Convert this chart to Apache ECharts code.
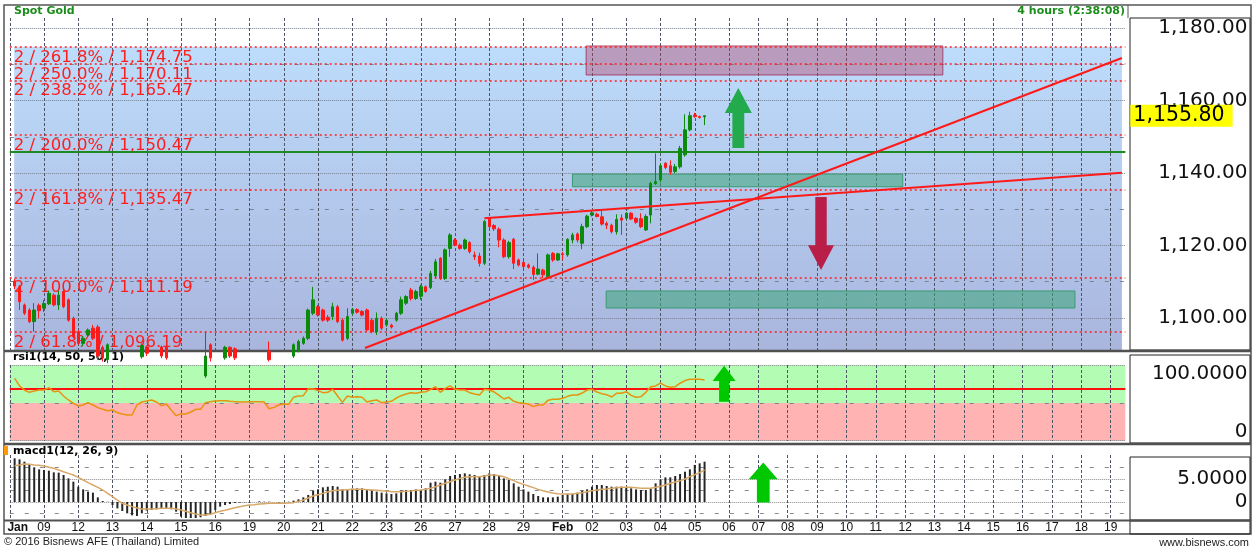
<!DOCTYPE html>
<html>
<head>
<meta charset="utf-8">
<script src="https://cdn.jsdelivr.net/npm/echarts@6/dist/echarts.min.js"></script>
<style>
  html, body { margin: 0; padding: 0; background: #fff; }
  #chart { width: 1254px; height: 546px; }
</style>
</head>
<body>
<div id="chart"></div>
<script>
// one slot per 4h bar; a day label sits on the first bar of its day
const dayLabels = ['Jan', '09', '12', '13', '14', '15', '16', '19', '20', '21', '22', '23', '26', '27', '28', '29',
  'Feb', '02', '03', '04', '05', '06', '07', '08', '09', '10', '11', '12', '13', '14', '15', '16', '17', '18', '19'];
const dayStart = [0, 7, 14, 21, 28, 35, 42, 49, 56, 63, 70, 77, 84, 91, 98, 105,
  113, 119, 126, 133, 140, 147, 153, 159, 165, 171, 177, 183, 189, 195, 201, 207, 213, 219, 225];
const barCount = 229;

// candles from bar 1: [open, close, low, high]
const ohlc = [
  [1110.2, 1108.8, 1108.0, 1110.8], [1108.6, 1104.5, 1102.2, 1109.1], [1103.6, 1101.3, 1100.8, 1104.0],
  [1102.2, 1099.0, 1098.6, 1102.7], [1099.0, 1102.2, 1096.2, 1104.1], [1103.5, 1102.0, 1099.9, 1104.0],
  [1102.7, 1104.0, 1101.7, 1105.0], [1103.9, 1106.8, 1103.6, 1107.5], [1106.3, 1103.6, 1103.2, 1106.8],
  [1103.6, 1106.3, 1102.2, 1107.5], [1107.3, 1103.1, 1102.7, 1107.7], [1105.0, 1099.4, 1099.0, 1105.4],
  [1099.9, 1094.8, 1094.4, 1100.4], [1096.2, 1093.0, 1092.6, 1096.7], [1093.0, 1094.4, 1092.2, 1095.0],
  [1095.3, 1096.7, 1094.9, 1097.1], [1097.2, 1094.4, 1093.9, 1098.1], [1097.5, 1089.5, 1088.5, 1098.1],
  [1091.9, 1089.0, 1088.0, 1092.4], [1088.5, 1092.6, 1087.5, 1093.0], [1090.5, 1088.0, 1087.0, 1090.8],
  [1088.0, 1086.5, 1085.5, 1089.0], [1086.5, 1084.0, 1083.0, 1087.0], [1084.0, 1085.5, 1083.0, 1086.5],
  [1085.5, 1087.2, 1085.0, 1088.0], [1087.2, 1089.3, 1086.5, 1090.0], [1089.3, 1092.4, 1088.8, 1093.0],
  [1092.0, 1090.3, 1089.5, 1092.4], [1090.3, 1089.0, 1088.0, 1090.8], [1089.0, 1090.5, 1088.0, 1091.0],
  [1092.0, 1089.5, 1088.9, 1092.4], [1091.9, 1089.0, 1088.5, 1092.2], [1089.0, 1087.5, 1086.8, 1089.6],
  [1087.5, 1085.0, 1084.2, 1088.0], [1085.0, 1082.5, 1081.8, 1085.6], [1082.5, 1080.0, 1079.0, 1083.0],
  [1080.0, 1078.5, 1077.5, 1080.8], [1078.5, 1081.0, 1077.8, 1081.6], [1081.0, 1084.0, 1080.5, 1084.6],
  [1084.0, 1089.5, 1083.5, 1096.2], [1092.6, 1089.0, 1088.0, 1093.0], [1089.0, 1087.5, 1086.8, 1089.8],
  [1087.5, 1089.0, 1087.0, 1089.8], [1089.0, 1091.9, 1088.5, 1092.3], [1091.9, 1089.5, 1089.0, 1092.2],
  [1091.5, 1089.0, 1088.4, 1091.9], [1089.0, 1087.8, 1087.0, 1089.5], [1087.8, 1088.6, 1087.2, 1089.2],
  [1088.6, 1087.5, 1086.8, 1089.0], [1087.5, 1088.8, 1087.0, 1089.4], [1088.8, 1089.5, 1088.2, 1090.0],
  [1089.5, 1088.7, 1088.0, 1090.2], [1090.8, 1088.5, 1088.0, 1093.5], [1088.5, 1087.6, 1087.0, 1089.0],
  [1087.6, 1088.4, 1087.0, 1089.0], [1088.4, 1088.9, 1088.0, 1089.5], [1088.9, 1089.5, 1088.4, 1090.2],
  [1089.5, 1092.6, 1089.0, 1093.0], [1091.2, 1093.5, 1090.5, 1094.0], [1093.0, 1094.4, 1092.6, 1094.9],
  [1094.4, 1102.2, 1093.9, 1102.6], [1101.3, 1105.0, 1100.8, 1108.6], [1103.1, 1100.8, 1100.4, 1103.6],
  [1102.2, 1099.4, 1099.0, 1102.6], [1100.2, 1099.4, 1098.9, 1100.8], [1100.4, 1103.1, 1099.4, 1104.2],
  [1103.1, 1099.0, 1098.6, 1103.6], [1099.4, 1093.9, 1093.5, 1099.9], [1094.4, 1100.4, 1093.9, 1102.7],
  [1101.3, 1102.4, 1100.8, 1102.8], [1102.3, 1101.6, 1101.2, 1102.7], [1101.8, 1100.8, 1100.4, 1102.2],
  [1102.2, 1096.7, 1096.2, 1102.6], [1099.4, 1096.2, 1095.8, 1099.9], [1096.2, 1099.9, 1095.3, 1101.5],
  [1099.9, 1097.2, 1096.7, 1100.4], [1098.1, 1099.4, 1097.6, 1099.9], [1098.0, 1097.5, 1097.1, 1098.4],
  [1099.4, 1101.3, 1099.0, 1101.7], [1101.3, 1105.0, 1100.8, 1105.9], [1104.1, 1105.9, 1103.6, 1106.3],
  [1107.7, 1105.4, 1104.8, 1108.3], [1105.4, 1107.3, 1105.0, 1107.8], [1106.0, 1108.6, 1105.0, 1109.2],
  [1108.6, 1107.3, 1107.0, 1109.0], [1108.4, 1112.3, 1108.0, 1113.0], [1111.6, 1115.5, 1111.0, 1116.3],
  [1116.5, 1110.9, 1110.5, 1116.8], [1110.9, 1118.8, 1110.5, 1119.2], [1119.2, 1122.9, 1116.9, 1123.4],
  [1121.5, 1120.1, 1119.8, 1122.0], [1120.1, 1119.2, 1118.8, 1120.5], [1119.2, 1121.5, 1118.8, 1121.9],
  [1120.8, 1118.3, 1117.8, 1121.2], [1117.4, 1116.9, 1116.0, 1118.3], [1117.1, 1115.1, 1114.2, 1118.0],
  [1115.1, 1126.6, 1114.6, 1127.0], [1127.5, 1125.2, 1124.5, 1127.7], [1125.5, 1124.6, 1124.0, 1125.9],
  [1124.5, 1121.5, 1119.5, 1125.0], [1121.5, 1116.9, 1116.5, 1122.0], [1116.9, 1120.8, 1116.4, 1121.3],
  [1121.7, 1115.1, 1113.5, 1122.1], [1116.0, 1114.6, 1114.2, 1116.4], [1115.3, 1114.2, 1113.8, 1115.8],
  [1114.6, 1114.0, 1113.6, 1115.0], [1114.0, 1112.0, 1110.5, 1114.5], [1112.1, 1113.5, 1111.8, 1117.8],
  [1113.2, 1111.9, 1111.0, 1113.6], [1111.4, 1117.4, 1110.9, 1117.8], [1117.8, 1116.0, 1115.5, 1118.2],
  [1116.0, 1117.7, 1115.7, 1118.0], [1117.7, 1117.5, 1116.0, 1118.2], [1117.4, 1121.7, 1116.9, 1122.0],
  [1121.5, 1122.9, 1120.6, 1123.5], [1123.2, 1121.5, 1120.8, 1123.6], [1120.6, 1125.2, 1119.0, 1126.0],
  [1125.2, 1128.1, 1124.8, 1128.5], [1128.4, 1129.0, 1128.0, 1129.6], [1128.6, 1128.0, 1127.8, 1129.0],
  [1127.9, 1125.9, 1125.5, 1129.6], [1126.1, 1125.6, 1124.5, 1126.6], [1125.6, 1123.8, 1123.3, 1126.0],
  [1123.8, 1127.2, 1123.0, 1128.6], [1127.6, 1127.0, 1122.9, 1128.6], [1127.5, 1128.9, 1127.2, 1129.2],
  [1128.9, 1127.3, 1127.0, 1129.2], [1127.5, 1126.4, 1126.0, 1127.8], [1127.4, 1125.2, 1124.8, 1128.9],
  [1124.3, 1128.0, 1124.0, 1128.6], [1128.4, 1137.1, 1126.1, 1137.6], [1137.1, 1137.6, 1136.7, 1145.4],
  [1138.1, 1142.0, 1137.5, 1142.6], [1142.7, 1141.5, 1141.0, 1143.0], [1142.0, 1140.2, 1139.5, 1143.5],
  [1140.4, 1141.7, 1140.0, 1142.5], [1141.7, 1146.8, 1141.2, 1147.5], [1145.0, 1151.9, 1144.5, 1156.2],
  [1151.9, 1155.8, 1151.5, 1156.9], [1156.0, 1155.6, 1155.2, 1156.6], [1155.6, 1155.3, 1155.0, 1155.8],
  [1155.5, 1155.8, 1153.2, 1155.9]
];

// rsi1(14, 50, 50, 1), from bar 1
const rsi = [
  92.5, 79.4, 72.4, 68.4, 70.7, 72.4, 72.4, 76.4, 69.5, 70.7, 62.1, 55.2, 49.4, 44.8, 46.6, 50.6, 46.6, 42.0, 39.1, 36.8,
  37.9, 33.3, 31.0, 29.3, 29.3, 46.6, 51.7, 53.4, 55.2, 51.7, 45.4, 48.3, 37.9, 28.2, 31.0, 31.0, 34.5, 39.1, 39.1, 50.6,
  52.3, 53.4, 54.0, 54.0, 52.9, 52.3, 51.7, 51.7, 52.3, 52.3, 52.3, 51.7, 40.2, 42.5, 46.6, 48.3, 47.7, 59.8, 62.1, 62.6,
  74.7, 74.1, 71.3, 67.8, 68.4, 73.6, 62.1, 51.1, 62.1, 59.8, 60.9, 59.8, 51.7, 54.0, 55.2, 50.6, 51.7, 52.9, 58.6, 62.6,
  65.5, 67.8, 66.7, 68.4, 69.5, 73.0, 78.2, 68.4, 75.3, 79.4, 73.6, 72.4, 72.4, 67.8, 65.5, 63.8, 73.6, 72.4, 69.0, 63.2,
  56.9, 59.8, 52.9, 50.6, 49.4, 48.3, 43.7, 46.6, 46.6, 54.6, 56.3, 56.3, 58.0, 61.5, 63.8, 63.8, 67.2, 72.4, 73.6, 69.0,
  66.1, 64.4, 60.3, 66.7, 66.7, 69.5, 63.2, 59.8, 60.9, 68.4, 78.2, 79.4, 84.1, 79.4, 77.0, 78.2, 84.1, 88.7, 90.8, 90.8,
  90.8, 89.7
];

// macd1(12, 26, 9), from bar 1
const macdHist = [
  9.49, 9.28, 8.77, 8.04, 7.54, 7.10, 6.96, 6.81, 6.45, 6.38, 5.87, 5.14, 4.42, 3.33, 2.75, 2.25, 2.03, 1.01, 0.22, 0.05,
  -0.65, -1.38, -1.96, -2.46, -2.90, -3.04, -2.46, -1.88, -1.74, -1.59, -1.52, -1.45, -1.59, -2.10, -3.19, -3.77, -3.91, -3.55, -3.33, -3.04,
  -2.61, -1.74, -1.01, -0.65, -0.43, -0.22, -0.14, -0.07, -0.07, 0.0, 0.14, 0.07, 0.07, 0.0, -0.14, 0.0, 0.07, 0.29, 0.58, 1.01,
  1.52, 2.46, 2.75, 3.19, 3.33, 3.48, 3.33, 2.75, 2.75, 2.90, 2.97, 2.97, 2.75, 2.46, 2.25, 2.03, 1.88, 1.74, 1.88, 2.46,
  2.61, 2.61, 2.75, 2.61, 2.97, 4.20, 4.42, 4.20, 4.93, 5.65, 5.87, 6.09, 6.23, 6.01, 5.87, 5.65, 5.87, 6.23, 6.09, 5.87,
  5.14, 4.78, 4.06, 3.33, 2.75, 2.25, 1.74, 1.30, 1.01, 1.01, 1.01, 1.16, 1.52, 1.74, 1.74, 2.03, 2.46, 2.75, 3.33, 3.70,
  3.70, 3.48, 3.33, 3.33, 3.33, 3.19, 2.97, 2.75, 2.61, 2.61, 2.97, 4.06, 4.93, 5.36, 5.36, 5.65, 6.09, 6.59, 7.10, 8.04,
  8.41, 8.77
];
const macdSignal = [
  7.90, 8.04, 8.26, 8.19, 8.04, 7.97, 7.83, 7.54, 7.32, 6.96, 6.59, 6.23, 5.87, 5.36, 4.78, 4.20, 3.70, 3.19, 2.61, 1.88,
  1.16, 0.43, -0.29, -0.65, -1.01, -1.30, -1.52, -1.52, -1.52, -1.45, -1.38, -1.38, -1.38, -1.52, -1.74, -2.03, -2.32, -2.61, -2.83, -2.83,
  -2.68, -2.32, -2.03, -1.81, -1.52, -1.23, -1.01, -0.80, -0.65, -0.58, -0.43, -0.36, -0.29, -0.29, -0.29, -0.29, -0.22, -0.14, 0.14, 0.43,
  0.87, 1.30, 1.59, 1.88, 2.17, 2.46, 2.54, 2.61, 2.68, 2.75, 2.75, 2.75, 2.68, 2.61, 2.54, 2.46, 2.39, 2.25, 2.25, 2.25,
  2.32, 2.39, 2.54, 2.61, 2.75, 2.97, 3.33, 3.70, 4.06, 4.42, 4.78, 5.14, 5.36, 5.51, 5.51, 5.51, 5.65, 5.87, 5.87, 5.72,
  5.51, 5.07, 4.64, 4.20, 3.84, 3.48, 3.12, 2.75, 2.46, 2.17, 1.96, 1.81, 1.74, 1.74, 1.74, 1.88, 2.03, 2.25, 2.46, 2.61,
  2.75, 2.83, 2.97, 3.12, 3.19, 3.19, 3.19, 3.12, 2.97, 2.97, 2.97, 3.19, 3.41, 3.70, 4.06, 4.35, 4.64, 5.00, 5.51, 5.94,
  6.38, 6.96
];

// fibonacci levels drawn on the price panel
const fibLevels = [1174.75, 1170.11, 1165.47, 1150.47, 1135.47, 1111.19, 1096.19];
const fibPct = ['261.8%', '250.0%', '238.2%', '200.0%', '161.8%', '100.0%', '61.8%'];
const supportLevel = 1145.8;
const lastPrice = 1155.80;

// axis ranges and ticks
const priceMin = 1091.17, priceMax = 1182.76;
const priceMajor = [1100, 1120, 1140, 1160, 1180];
const priceMinor = [1110, 1130, 1150, 1170];
const rsiMin = -15.5, rsiMax = 115.5, rsiMid = 50, rsiSignal = 75;
const rsiTicks = [0, 100];
const macdMin = -3.48, macdMax = 10.22;
const macdMajor = [0, 5];
const macdMinor = [-2.5, 2.5, 7.5];

// hand-drawn annotations, in [bar, value]
const trendLines = [
  [[72.6, 1091.72], [227.3, 1171.73]],
  [[97.0, 1127.5], [227.3, 1140.1]]
];
const targetBox = [[117.8, 1175.04], [190.7, 1167.04]];
const tealBoxes = [
  [[115.0, 1139.7], [182.5, 1136.2]],
  [[121.9, 1107.45], [217.7, 1102.76]]
];

const upArrow = 'path://M50,0 L100,42 L72,42 L72,100 L28,100 L28,42 L0,42 Z';
const downArrow = 'path://M28,0 L72,0 L72,66 L100,66 L50,100 L0,66 L28,66 Z';

const cats = Array.from({ length: barCount }, (_, i) => String(i));
const labelAt = {};
dayStart.forEach((s, i) => { labelAt[s] = dayLabels[i]; });
const isDay = (i) => labelAt[i] !== undefined;

const fmt = (v) => v.toLocaleString('en-US', { minimumFractionDigits: 2, maximumFractionDigits: 2 });
const sansWide = '"DejaVu Sans"';
const sans = '"Liberation Sans", Arial';

const gridLeft = 9.75, gridWidth = 1115.6;
const vLine = { show: true, interval: isDay, lineStyle: { color: '#4c5466', type: [3, 2], width: 1 } };

function catAxis(gridIndex, showLabel) {
  return {
    type: 'category', gridIndex, data: cats, boundaryGap: false,
    axisLine: { show: false }, axisTick: { show: false },
    splitLine: vLine,
    axisLabel: showLabel ? {
      interval: isDay, margin: 4, fontSize: 12, fontFamily: sans, color: '#111', hideOverlap: false,
      formatter: (v) => {
        const t = labelAt[+v] || '';
        if (t === 'Jan') return '{j|Jan}';
        if (t === 'Feb') return '{b|Feb}';
        return t;
      },
      rich: {
        j: { fontWeight: 'bold', fontSize: 12, fontFamily: sans, color: '#111', padding: [0, 0, 0, 16] },
        b: { fontWeight: 'bold', fontSize: 12, fontFamily: sans, color: '#111' }
      }
    } : { show: false }
  };
}

function valLabel(values, formatter) {
  return {
    customValues: values, formatter, align: 'right', margin: 122,
    fontSize: 20, fontFamily: sansWide, color: '#111'
  };
}

const hLines = (vals, type, color) => vals.map((v) => ({ yAxis: v, lineStyle: { type, color, width: 1 } }));

const option = {
  animation: false,
  backgroundColor: '#fff',
  grid: [
    { left: gridLeft, top: 18, width: gridWidth, height: 332, outerBoundsMode: 'none' },
    { left: gridLeft, top: 365, width: gridWidth, height: 76, outerBoundsMode: 'none' },
    { left: gridLeft, top: 455, width: gridWidth, height: 63, outerBoundsMode: 'none' }
  ],
  xAxis: [
    catAxis(0, false),
    catAxis(1, false),
    catAxis(2, true),
    { type: 'value', gridIndex: 0, min: 0, max: barCount - 1, show: false }
  ],
  yAxis: [
    {
      type: 'value', gridIndex: 0, position: 'right', min: priceMin, max: priceMax,
      axisLine: { show: false }, axisTick: { show: false }, splitLine: { show: false },
      axisLabel: valLabel(priceMajor, (v) => fmt(v))
    },
    {
      type: 'value', gridIndex: 1, position: 'right', min: rsiMin, max: rsiMax,
      axisLine: { show: false }, axisTick: { show: false }, splitLine: { show: false },
      axisLabel: valLabel(rsiTicks, (v) => (v === 0 ? '0' : v.toFixed(4)))
    },
    {
      type: 'value', gridIndex: 2, position: 'right', min: macdMin, max: macdMax,
      axisLine: { show: false }, axisTick: { show: false }, splitLine: { show: false },
      axisLabel: valLabel(macdMajor, (v) => (v === 0 ? '0' : v.toFixed(4)))
    }
  ],
  series: [
    // price panel backdrop
    {
      type: 'line', xAxisIndex: 3, yAxisIndex: 0, data: [], silent: true,
      markArea: {
        silent: true, z: -5,
        itemStyle: {
          color: new echarts.graphic.LinearGradient(0, 0, 0, 1, [
            { offset: 0, color: '#bddcfb' }, { offset: 1, color: '#a9b5dd' }
          ])
        },
        data: [[{ coord: [0.9, fibLevels[0]] }, { coord: [227.3, priceMin] }]]
      },
      markLine: {
        silent: true, z: -4, symbol: ['none', 'none'], label: { show: false },
        data: hLines(priceMajor, [1, 1], '#7a8290').concat(hLines(priceMinor, [4, 11], '#7a8290'))
      }
    },
    // fib levels and support line
    {
      type: 'line', xAxisIndex: 0, yAxisIndex: 0, data: [], silent: true,
      markLine: {
        silent: true, z: 1, symbol: ['none', 'none'],
        data: fibLevels.map((v, i) => ({
          yAxis: v,
          lineStyle: { color: '#ff2020', type: [2, 3], width: 1.5 },
          label: {
            show: true, position: 'insideStartBottom', distance: [4, 2],
            formatter: '2 / ' + fibPct[i] + ' / ' + fmt(v),
            color: '#ff1e1e', fontSize: 16.5, fontFamily: sansWide
          }
        })).concat([{
          yAxis: supportLevel, label: { show: false },
          lineStyle: { color: '#1f8a1f', type: 'solid', width: 2 }
        }])
      }
    },
    // boxes
    {
      type: 'line', xAxisIndex: 3, yAxisIndex: 0, data: [], silent: true,
      markArea: {
        silent: true, z: 1,
        data: [
          [{ coord: targetBox[0], itemStyle: { color: 'rgba(180,60,100,0.4)', borderColor: 'rgba(160,50,90,0.85)', borderWidth: 1 } },
           { coord: targetBox[1] }]
        ].concat(tealBoxes.map((b) => [
          { coord: b[0], itemStyle: { color: 'rgba(60,165,120,0.55)', borderColor: '#3a9a70', borderWidth: 1 } },
          { coord: b[1] }
        ]))
      }
    },
    // candles
    {
      type: 'candlestick', xAxisIndex: 0, yAxisIndex: 0, z: 2, barWidth: 3,
      data: ohlc.map((d, i) => [i + 1].concat(d)),
      encode: { x: 0, y: [1, 2, 3, 4] },
      itemStyle: { color: '#0b8a0b', color0: '#ff1a1a', borderColor: '#0b8a0b', borderColor0: '#ff1a1a', borderWidth: 1 },
      markLine: {
        silent: true, z: 6, symbol: ['none', 'none'],
        lineStyle: { color: 'rgba(0,0,0,0)' },
        data: [{
          yAxis: lastPrice,
          label: {
            show: true, position: 'end', distance: 5, formatter: fmt(lastPrice),
            color: '#000', backgroundColor: '#ffff00', fontSize: 20.5, fontFamily: sansWide, padding: [1, 8, 0, 3]
          }
        }]
      }
    },
    // trend lines and arrows
    {
      type: 'line', xAxisIndex: 3, yAxisIndex: 0, data: [], silent: true,
      markLine: {
        silent: true, z: 3, symbol: ['none', 'none'], label: { show: false },
        lineStyle: { color: '#ff1a1a', width: 2, type: 'solid' },
        data: trendLines.map((l) => [{ coord: l[0] }, { coord: l[1] }])
      },
      markPoint: {
        silent: true, z: 6, label: { show: false },
        data: [
          { coord: [148.9, 1155.2], symbol: upArrow, symbolSize: [27, 60], itemStyle: { color: '#22aa4c' } },
          { coord: [165.8, 1123.3], symbol: downArrow, symbolSize: [26, 73], itemStyle: { color: '#b81e48' } }
        ]
      }
    },
    // RSI panel
    {
      type: 'line', xAxisIndex: 1, yAxisIndex: 1, data: [], silent: true,
      markArea: {
        silent: true, z: -5,
        data: [
          [{ yAxis: rsiMid, itemStyle: { color: '#b3fcb3' } }, { yAxis: rsiMax }],
          [{ yAxis: rsiMin, itemStyle: { color: '#ffb3b3' } }, { yAxis: rsiMid }]
        ]
      },
      markLine: {
        silent: true, z: -4, symbol: ['none', 'none'], label: { show: false },
        data: hLines([rsiMid], [4, 11], '#7a8290').concat(hLines([rsiMax - 0.6, rsiMin + 0.6], [1, 1], '#8a8a8a'))
      }
    },
    {
      type: 'line', xAxisIndex: 1, yAxisIndex: 1, z: 3, symbol: 'none',
      data: rsi.map((v, i) => [i + 1, v]),
      lineStyle: { color: '#e8920f', width: 1.5 },
      markLine: {
        silent: true, z: 2, symbol: ['none', 'none'], label: { show: false },
        data: [{ yAxis: rsiSignal, lineStyle: { color: '#ff1010', width: 2, type: 'solid' } }]
      },
      markPoint: {
        silent: true, z: 6, label: { show: false },
        data: [{ coord: ['146', 83.1], symbol: upArrow, symbolSize: [23, 36], itemStyle: { color: '#00c800' } }]
      }
    },
    // MACD panel
    {
      type: 'line', xAxisIndex: 2, yAxisIndex: 2, data: [], silent: true,
      markLine: {
        silent: true, z: -4, symbol: ['none', 'none'], label: { show: false },
        data: hLines(macdMajor, [1, 1], '#8a8a8a').concat(hLines(macdMinor, [4, 11], '#8a8a8a'))
      }
    },
    {
      type: 'bar', xAxisIndex: 2, yAxisIndex: 2, barWidth: 2, z: 2,
      data: macdHist.map((v, i) => [i + 1, v]),
      itemStyle: { color: '#262626' }
    },
    {
      type: 'line', xAxisIndex: 2, yAxisIndex: 2, z: 3, symbol: 'none',
      data: macdSignal.map((v, i) => [i + 1, v]),
      lineStyle: { color: '#d8a868', width: 1.5 },
      markPoint: {
        silent: true, z: 6, label: { show: false },
        data: [{ coord: ['154', 4.24], symbol: upArrow, symbolSize: [29, 40], itemStyle: { color: '#00c800' } }]
      }
    }
  ],
  graphic: [
    { type: 'rect', shape: { x: 4, y: 5, width: 1247, height: 529 }, style: { fill: 'none', stroke: '#555', lineWidth: 1.5 } },
    { type: 'line', shape: { x1: 1128, y1: 5, x2: 1128, y2: 18 }, style: { stroke: '#555', lineWidth: 1 } },
    { type: 'rect', shape: { x: 1130, y: 18, width: 120, height: 332 }, style: { fill: 'none', stroke: '#222', lineWidth: 1 } },
    { type: 'rect', shape: { x: 1130, y: 355, width: 120, height: 88 }, style: { fill: 'none', stroke: '#222', lineWidth: 1 } },
    { type: 'rect', shape: { x: 1130, y: 457, width: 120, height: 63 }, style: { fill: 'none', stroke: '#222', lineWidth: 1 } },
    { type: 'rect', shape: { x: 1130, y: 521, width: 120, height: 13 }, style: { fill: 'none', stroke: '#222', lineWidth: 1 } },
    { type: 'line', shape: { x1: 4, y1: 351, x2: 1251, y2: 351 }, style: { stroke: '#505050', lineWidth: 2.5 } },
    { type: 'line', shape: { x1: 4, y1: 444, x2: 1251, y2: 444 }, style: { stroke: '#505050', lineWidth: 2.5 } },
    { type: 'line', shape: { x1: 4, y1: 520.5, x2: 1251, y2: 520.5 }, style: { stroke: '#505050', lineWidth: 2 } },
    { type: 'rect', shape: { x: 4, y: 446, width: 4, height: 9 }, style: { fill: '#ff9900' } },
    { type: 'text', x: 14, y: 11, style: { text: 'Spot Gold', fill: '#1b8c1b', font: 'bold 11px ' + sansWide, verticalAlign: 'middle' } },
    { type: 'text', x: 1125, y: 11, style: { text: '4 hours (2:38:08)', fill: '#1b8c1b', font: 'bold 11px ' + sansWide, align: 'right', verticalAlign: 'middle' } },
    { type: 'text', x: 13, y: 357.5, style: { text: 'rsi1(14, 50, 50, 1)', fill: '#000', font: 'bold 11px ' + sansWide, verticalAlign: 'middle' } },
    { type: 'text', x: 13, y: 451, style: { text: 'macd1(12, 26, 9)', fill: '#000', font: 'bold 11px ' + sansWide, verticalAlign: 'middle' } },
    { type: 'text', x: 4, y: 541.5, style: { text: '\u00a9 2016 Bisnews AFE (Thailand) Limited', fill: '#222', font: '11px ' + sans, verticalAlign: 'middle' } },
    { type: 'text', x: 1249, y: 542.5, style: { text: 'www.bisnews.com', fill: '#222', font: '11px ' + sans, align: 'right', verticalAlign: 'middle' } }
  ]
};

const chart = echarts.init(document.getElementById('chart'));
chart.setOption(option);
</script>
</body>
</html>
